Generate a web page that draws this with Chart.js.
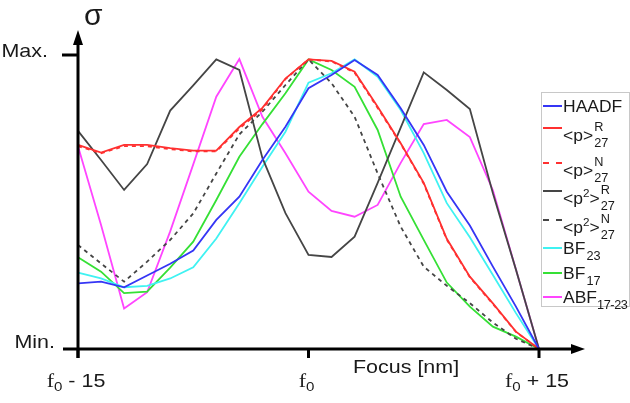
<!DOCTYPE html>
<html>
<head>
<meta charset="utf-8">
<script src="https://cdn.jsdelivr.net/npm/chart.js@4"></script>
<style>
    body { margin: 0; background: #fff; }
    #wrap { position: relative; width: 630px; height: 403px; font-family: "Liberation Sans", Arial, sans-serif; }
    #legend { position: absolute; left: 541px; top: 92px; width: 89px; height: 215px; border: 1px solid #c8c8c8; box-sizing: border-box; }
    .item { position: absolute; left: 0; height: 20px; width: 87px; color: #1a1a1a; white-space: nowrap; }
    .swatch { position: absolute; left: 1px; top: 9px; width: 19px; height: 0; border-top: 2px solid; }
    .txt { position: absolute; left: 21px; font-size: 16.5px; line-height: 18px; display: inline-block; transform: scaleX(1.06); transform-origin: left center; }
    .ss { display: inline-flex; flex-direction: column; font-size: 12px; line-height: 12px; gap: 4px; vertical-align: middle; margin-left: 1px; position: relative; top: -2px; }
    .sub { font-size: 12px; position: relative; top: 6px; margin-left: 1px; }
    .sub.ancho { letter-spacing: -0.4px; margin-left: 0; }
    .sup2 { font-size: 11px; position: relative; top: -7px; }
</style>
</head>
<body>
<div id="wrap">
    <canvas id="grafico" width="630" height="403"></canvas>
    <div id="legend"></div>
</div>
<script>
// foco relativo (nm), de f0 - 15 a f0 + 15
const foco = [-15, -13.5, -12, -10.5, -9, -7.5, -6, -4.5, -3, -1.5, 0, 1.5, 3, 4.5, 6, 7.5, 9, 10.5, 12, 13.5, 15];

// sigma normalizada (0 = Min., 1 = Max.)
const haadf  = [0.223, 0.229, 0.21, 0.25, 0.29, 0.335, 0.439, 0.518, 0.643, 0.756, 0.887, 0.932, 0.983, 0.932, 0.819, 0.694, 0.535, 0.42, 0.28, 0.144, 0];
const pR27   = [0.694, 0.668, 0.694, 0.694, 0.683, 0.675, 0.675, 0.755, 0.82, 0.92, 0.985, 0.98, 0.943, 0.824, 0.70, 0.565, 0.375, 0.246, 0.155, 0.059, 0];
const pN27   = [0.69, 0.666, 0.69, 0.69, 0.68, 0.672, 0.672, 0.75, 0.815, 0.918, 0.985, 0.978, 0.94, 0.82, 0.698, 0.562, 0.372, 0.244, 0.153, 0.058, 0];
const p2R27  = [0.742, 0.643, 0.541, 0.629, 0.811, 0.897, 0.985, 0.949, 0.65, 0.462, 0.32, 0.313, 0.382, 0.565, 0.753, 0.941, 0.881, 0.816, 0.53, 0.27, 0];
const p2N27  = [0.354, 0.291, 0.229, 0.297, 0.371, 0.461, 0.597, 0.73, 0.807, 0.898, 0.985, 0.904, 0.79, 0.597, 0.416, 0.28, 0.215, 0.156, 0.09, 0.035, 0];
const bf23   = [0.26, 0.24, 0.21, 0.215, 0.24, 0.278, 0.376, 0.496, 0.62, 0.739, 0.906, 0.938, 0.985, 0.926, 0.813, 0.666, 0.496, 0.38, 0.252, 0.122, 0];
const bf17   = [0.312, 0.263, 0.19, 0.195, 0.277, 0.365, 0.507, 0.654, 0.765, 0.87, 0.985, 0.949, 0.892, 0.745, 0.518, 0.371, 0.226, 0.144, 0.076, 0.042, 0];
const abf    = [0.69, 0.422, 0.138, 0.193, 0.40, 0.628, 0.858, 0.986, 0.79, 0.666, 0.535, 0.47, 0.45, 0.49, 0.633, 0.765, 0.779, 0.721, 0.54, 0.27, 0];

const ticksX = [-15, 0, 15];
const etiquetasX = [['f', '0', ' - 15'], ['f', '0', ''], ['f', '0', ' + 15']];

const series = [
    { datos: haadf, color: '#3535f5', dash: [],     nombre: 'HAADF', sup: '', sub: '' },
    { datos: pR27,  color: '#ff3030', dash: [],     nombre: '&lt;p&gt;', sup: 'R', sub: '27' },
    { datos: pN27,  color: '#ff3030', dash: [4, 4], nombre: '&lt;p&gt;', sup: 'N', sub: '27' },
    { datos: p2R27, color: '#454545', dash: [],     nombre: '&lt;p<span class="sup2">2</span>&gt;', sup: 'R', sub: '27' },
    { datos: p2N27, color: '#454545', dash: [4, 4], nombre: '&lt;p<span class="sup2">2</span>&gt;', sup: 'N', sub: '27' },
    { datos: bf23,  color: '#3ff2f2', dash: [],     nombre: 'BF', sup: '', sub: '23' },
    { datos: bf17,  color: '#35e035', dash: [],     nombre: 'BF', sup: '', sub: '17' },
    { datos: abf,   color: '#ff45ff', dash: [],     nombre: 'ABF', sup: '', sub: '17-23' }
];

// altura (px de pagina) de la muestra de linea de cada entrada
const filasLeyenda = [105.7, 128, 163, 191, 220, 248, 273, 297];

document.getElementById('legend').innerHTML = series.map((s, i) => {
    let txt = s.nombre;
    if (s.sup) txt += `<span class="ss"><span>${s.sup}</span><span>${s.sub}</span></span>`;
    else if (s.sub) txt += `<span class="sub${s.sub.length > 2 ? ' ancho' : ''}">${s.sub}</span>`;
    const borde = s.dash.length ? 'dashed' : 'solid';
    const top = filasLeyenda[i] - 93 - 10;
    const tt = s.sup ? 5 : 1;
    return `<div class="item" style="top:${top}px"><span class="swatch" style="border-top-color:${s.color};border-top-style:${borde}"></span><span class="txt" style="top:${tt}px">${txt}</span></div>`;
}).join('');

const SX = 1.16;
const SANS = '"Liberation Sans", Arial, sans-serif';

function texto(ctx, str, x, y, align) {
    const w = ctx.measureText(str).width * SX;
    const left = align === 'right' ? x - w : align === 'center' ? x - w / 2 : x;
    ctx.save();
    ctx.translate(left, y);
    ctx.scale(SX, 1);
    ctx.textAlign = 'left';
    ctx.fillText(str, 0, 0);
    ctx.restore();
    return w;
}

const ejes = {
    id: 'ejes',
    afterDraw(chart) {
        const { ctx, scales: { x, y } } = chart;
        const x0 = x.getPixelForValue(-15);
        const y0 = y.getPixelForValue(0);
        const yMax = y.getPixelForValue(1);
        ctx.save();
        ctx.strokeStyle = '#000';
        ctx.fillStyle = '#000';
        ctx.lineWidth = 3;
        ctx.setLineDash([]);
        // eje y con flecha
        ctx.beginPath();
        ctx.moveTo(x0, y0 + 9);
        ctx.lineTo(x0, 42);
        ctx.stroke();
        ctx.beginPath();
        ctx.moveTo(x0, 30);
        ctx.lineTo(x0 - 5, 45);
        ctx.lineTo(x0 + 5, 45);
        ctx.closePath();
        ctx.fill();
        // marca Max.
        ctx.beginPath();
        ctx.moveTo(x0 - 16, yMax);
        ctx.lineTo(x0, yMax);
        ctx.stroke();
        // eje x con flecha
        ctx.beginPath();
        ctx.moveTo(x0 - 15, y0);
        ctx.lineTo(574, y0);
        ctx.stroke();
        ctx.beginPath();
        ctx.moveTo(585, y0);
        ctx.lineTo(571, y0 - 5);
        ctx.lineTo(571, y0 + 5);
        ctx.closePath();
        ctx.fill();
        ticksX.forEach(v => {
            const px = x.getPixelForValue(v);
            ctx.beginPath();
            ctx.moveTo(px, y0);
            ctx.lineTo(px, y0 + 9);
            ctx.stroke();
        });

        ctx.fillStyle = '#1a1a1a';
        ctx.textBaseline = 'alphabetic';
        ctx.font = '18.5px ' + SANS;
        texto(ctx, 'Max.', x0 - 30, yMax + 2, 'right');
        texto(ctx, 'Min.', x0 - 23, y0 - 1, 'right');
        texto(ctx, 'Focus [nm]', 353, y0 + 24, 'left');
        ctx.font = '30px ' + SANS;
        ctx.fillText('σ', 84, 25);

        // etiquetas f0 con subindice
        etiquetasX.forEach((partes, i) => {
            const px = x.getPixelForValue(ticksX[i]);
            const [base, sub, resto] = partes;
            ctx.font = '19px "Liberation Serif", serif';
            const wb = ctx.measureText(base).width * SX;
            ctx.font = '13px ' + SANS;
            const ws = ctx.measureText(sub).width * SX;
            ctx.font = '18.5px ' + SANS;
            const wr = ctx.measureText(resto).width * SX;
            const cx = px - (wb + ws + wr) / 2 - 2;
            const by = y0 + 38;
            ctx.font = '19px "Liberation Serif", serif';
            texto(ctx, base, cx, by, 'left');
            ctx.font = '13px ' + SANS;
            texto(ctx, sub, cx + wb, by + 4, 'left');
            ctx.font = '18.5px ' + SANS;
            texto(ctx, resto, cx + wb + ws, by, 'left');
        });
        ctx.restore();
    }
};

new Chart(document.getElementById('grafico').getContext('2d'), {
    type: 'line',
    data: {
        datasets: series.map(s => ({
            data: foco.map((f, i) => ({ x: f, y: s.datos[i] })),
            borderColor: s.color,
            borderDash: s.dash,
            borderWidth: 1.8,
            pointRadius: 0,
            tension: 0,
            fill: false,
            clip: false
        }))
    },
    options: {
        responsive: false,
        animation: false,
        devicePixelRatio: 1,
        layout: { padding: { left: 78, right: 91, top: 55, bottom: 54 } },
        scales: {
            x: { type: 'linear', min: -15, max: 15, display: false },
            y: { type: 'linear', min: 0, max: 1, display: false }
        },
        plugins: { legend: { display: false }, tooltip: { enabled: false } }
    },
    plugins: [ejes]
});
</script>
</body>
</html>
